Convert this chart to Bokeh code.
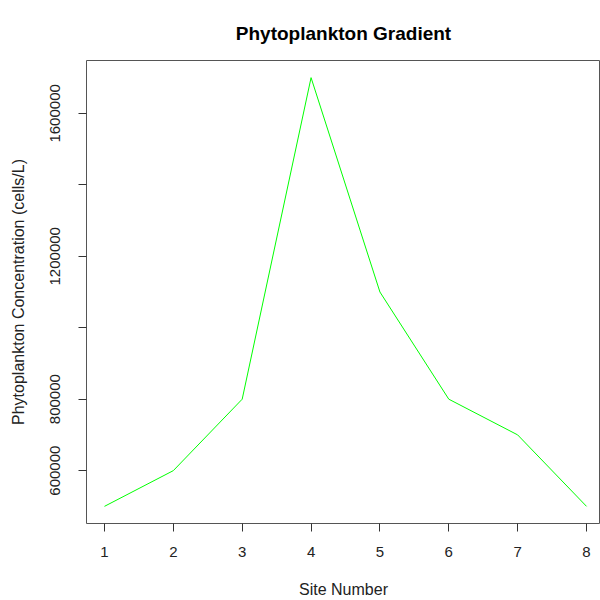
from bokeh.plotting import figure
from bokeh.models import Range1d, FixedTicker
from bokeh.embed import file_html
from bokeh.resources import INLINE

sites = [1, 2, 3, 4, 5, 6, 7, 8]
concentration = [500000, 600000, 800000, 1700000, 1100000, 800000, 700000, 500000]
y_ticks = [600000, 800000, 1000000, 1200000, 1400000, 1600000]
y_tick_labels = ["600000", "800000", "", "1200000", "", "1600000"]
title_text = "Phytoplankton Gradient"

FONT = "Liberation Sans"

p = figure(width=600, height=600, output_backend="svg", toolbar_location=None,
           x_range=Range1d(0.739, 8.203), y_range=Range1d(452000, 1748000),
           min_border_left=86, min_border_right=0, min_border_top=60, min_border_bottom=77)

p.line(sites, concentration, line_color="#00FF00", line_width=1)

p.title.text = title_text
p.title.align = "center"
p.title.text_font = FONT
p.title.text_font_size = "19px"
p.title.text_font_style = "bold"
p.title.text_color = "#000000"
p.title.standoff = 34

p.xgrid.visible = False
p.ygrid.visible = False
p.outline_line_color = "#555555"
p.outline_line_width = 1
p.background_fill_color = "white"
p.border_fill_color = "white"

for ax in (p.xaxis, p.yaxis):
    ax.axis_line_color = None
    ax.major_tick_line_color = "#333333"
    ax.major_tick_out = 8
    ax.major_tick_in = 0
    ax.minor_tick_line_color = None
    ax.major_label_text_font = FONT
    ax.major_label_text_font_size = "15px"
    ax.major_label_text_color = "#222222"
    ax.axis_label_text_font = FONT
    ax.axis_label_text_font_size = "16px"
    ax.axis_label_text_font_style = "normal"
    ax.axis_label_text_color = "#222222"

p.xaxis.ticker = FixedTicker(ticks=sites)
p.xaxis.axis_label = "Site Number"
p.xaxis.major_label_standoff = 15
p.xaxis.axis_label_standoff = 21

p.yaxis.ticker = FixedTicker(ticks=y_ticks)
p.yaxis.major_label_overrides = {t: l for t, l in zip(y_ticks, y_tick_labels)}
p.yaxis.major_label_orientation = "vertical"
p.yaxis.axis_label = "Phytoplankton Concentration (cells/L)"
p.yaxis.major_label_standoff = 18
p.yaxis.axis_label_standoff = 21

open("out.html", "w").write(file_html(p, INLINE))
